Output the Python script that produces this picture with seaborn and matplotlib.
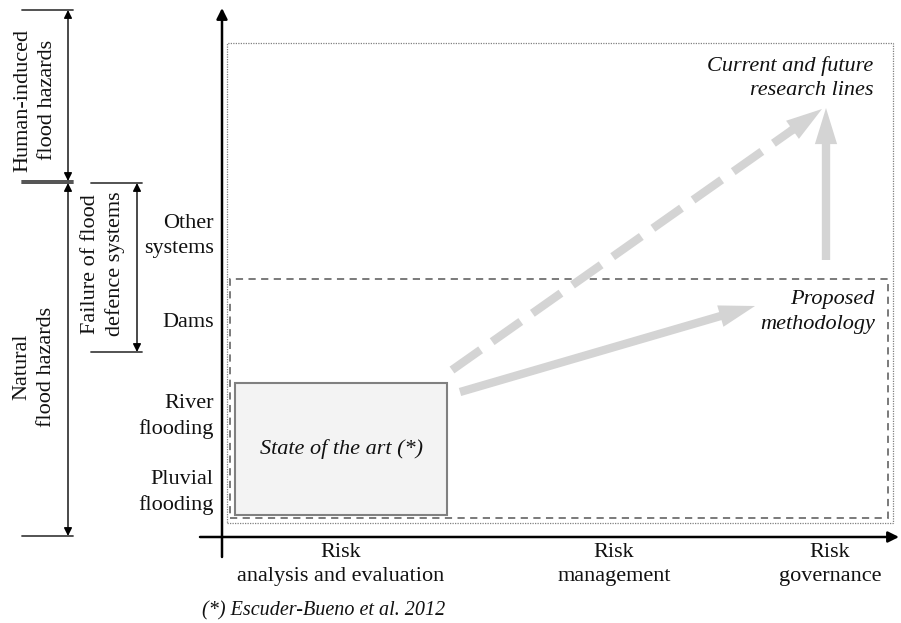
import matplotlib
matplotlib.use("Agg")
import matplotlib.pyplot as plt
import seaborn as sns
from matplotlib.patches import Rectangle, FancyArrowPatch, ArrowStyle

sns.set_theme(style="white")
plt.rcParams['font.family'] = ['Liberation Serif', 'DejaVu Serif']

# Categories on the two axes
STAGES = ["Risk\nanalysis and evaluation", "Risk\nmanagement", "Risk\ngovernance"]
HAZARDS = ["Pluvial\nflooding", "River\nflooding", "Dams", "Other\nsystems"]

# Where each category sits (axis units, origin at the crossing of the axes)
STAGE_POS = [119, 392, 608]
HAZARD_POS = [50, 126, 217, 306]

# Regions of the diagram: (x0, y0, x1, y1)
STATE_OF_ART = (13, 22, 225, 154)
PROPOSED = (8, 19, 666, 258)
FUTURE = (5, 14, 671, 494)

# Transitions between regions: (start, end)
ARROW_PROPOSED = ((238, 145), (533, 231))
ARROW_FUTURE_DIAG = ((230, 167), (600, 428))
ARROW_FUTURE_UP = ((604, 277), (604, 429))

# Hazard groups on the left: (label, bottom, top, x of arrow, label x, label y)
GROUPS = [
    ("Human-induced\nflood hazards", 356, 527, -154, -187, 437),
    ("Natural\nflood hazards", 1, 354, -154, -188, 170),
    ("Failure of flood\ndefence systems", 185, 354, -85, -119, 273),
]

ARROW_GREY = '#d4d4d4'
INK = '#111111'
FS = 16
LS = 1.4

fig = plt.figure(figsize=(9.01, 6.23), dpi=100)
ax = fig.add_axes([222 / 901, 86 / 623, 677 / 901, 529 / 623])
ax.set_xlim(0, 677)
ax.set_ylim(0, 529)
for s in ax.spines.values():
    s.set_visible(False)
ax.set_facecolor('none')
ax.grid(False)

ax.set_xticks(STAGE_POS, STAGES)
ax.set_yticks(HAZARD_POS, HAZARDS)
ax.tick_params(axis='both', length=0, labelsize=FS, colors=INK)
ax.tick_params(axis='x', pad=4)
ax.tick_params(axis='y', pad=6)
for lab in ax.get_xticklabels():
    lab.set_linespacing(LS)
for lab in ax.get_yticklabels():
    lab.set_linespacing(LS)
    lab.set_multialignment('right')

# Axis arrows
axis_arrow = dict(arrowstyle="-|>", color='black', lw=1.8, mutation_scale=16,
                  shrinkA=0, shrinkB=0)
ax.annotate("", xy=(0, 529), xytext=(0, -20), annotation_clip=False, arrowprops=axis_arrow)
ax.annotate("", xy=(677, 0), xytext=(-22, 0), annotation_clip=False, arrowprops=axis_arrow)

# Boxes
x0, y0, x1, y1 = FUTURE
ax.add_patch(Rectangle((x0, y0), x1 - x0, y1 - y0, fill=False,
                       edgecolor='#808080', lw=0.9, linestyle=(0, (1, 1))))
x0, y0, x1, y1 = PROPOSED
ax.add_patch(Rectangle((x0, y0), x1 - x0, y1 - y0, fill=False,
                       edgecolor='#707070', lw=1.3, linestyle=(0, (4, 3))))
x0, y0, x1, y1 = STATE_OF_ART
ax.add_patch(Rectangle((x0, y0), x1 - x0, y1 - y0, facecolor='#f3f3f3',
                       edgecolor='#808080', lw=1.5))
ax.text((x0 + x1) / 2, (y0 + y1) / 2, "State of the art (*)", style='italic',
        fontsize=FS, ha='center', va='center', color=INK)

# Grey arrows
simple = ArrowStyle("Simple", head_length=2.6, head_width=1.6, tail_width=0.6)
for start, end in [ARROW_PROPOSED, ARROW_FUTURE_UP]:
    ax.add_patch(FancyArrowPatch(start, end, arrowstyle=simple, mutation_scale=10,
                                 color=ARROW_GREY, lw=0, shrinkA=0, shrinkB=0))

# dashed one: dashed shaft plus a solid head
(sx, sy), (ex, ey) = ARROW_FUTURE_DIAG
length = ((ex - sx) ** 2 + (ey - sy) ** 2) ** 0.5
ux, uy = (ex - sx) / length, (ey - sy) / length
hx, hy = ex - 30 * ux, ey - 30 * uy
ax.plot([sx, hx], [sy, hy], color=ARROW_GREY, lw=6,
        linestyle=(0, (4.2, 1.7)), dash_capstyle='butt')
ax.add_patch(FancyArrowPatch((ex - 38 * ux, ey - 38 * uy), (ex, ey), arrowstyle=simple,
                             mutation_scale=10, color=ARROW_GREY, lw=0,
                             shrinkA=0, shrinkB=0))

ax.text(653, 225, "Proposed\nmethodology", style='italic', fontsize=FS, linespacing=LS,
        ha='right', va='center', multialignment='right', color=INK)
ax.text(651, 459, "Current and future\nresearch lines", style='italic', fontsize=FS,
        linespacing=LS, ha='right', va='center', multialignment='right', color=INK)

# Hazard group brackets on the left
for label, bottom, top, xa, lx, ly in GROUPS:
    ax.annotate("", xy=(xa, top), xytext=(xa, bottom), annotation_clip=False,
                arrowprops=dict(arrowstyle="<|-|>", color='black', lw=1.0,
                                mutation_scale=12, shrinkA=0, shrinkB=0))
    for yy in (bottom, top):
        ax.plot([xa - 46, xa + 5], [yy, yy], color='#444444', lw=1.3, clip_on=False)
    ax.text(lx, ly, label, rotation=90, fontsize=FS, linespacing=LS,
            ha='center', va='center', multialignment='center', color=INK)

ax.text(-20, -74, "(*) Escuder-Bueno et al. 2012", style='italic', fontsize=14.5,
        ha='left', va='center', color=INK)

fig.savefig("out.png", dpi=100)
